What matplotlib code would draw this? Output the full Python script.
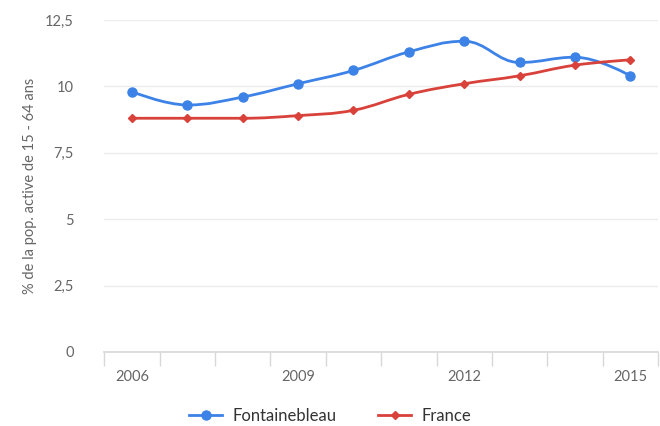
import matplotlib
matplotlib.use("Agg")
import matplotlib.pyplot as plt
from matplotlib.path import Path
from matplotlib.patches import PathPatch
from matplotlib.lines import Line2D
import numpy as np

plt.rcParams['font.family'] = ['Lato', 'DejaVu Sans']

years = [2006, 2007, 2008, 2009, 2010, 2011, 2012, 2013, 2014, 2015]
fontainebleau = [9.8, 9.3, 9.6, 10.1, 10.6, 11.3, 11.7, 10.9, 11.1, 10.4]
france = [8.8, 8.8, 8.8, 8.9, 9.1, 9.7, 10.1, 10.4, 10.8, 11.0]
yticks = [0, 2.5, 5, 7.5, 10, 12.5]
ytick_labels = ["0", "2,5", "5", "7,5", "10", "12,5"]
xtick_years = [2006, 2009, 2012, 2015]
ylabel = "% de la pop. active de 15 - 64 ans"

blue = "#3d82e6"
red = "#d8423b"
textc = "#666666"

def spline_path(xs, ys, smoothing=1.5):
    """Highcharts-like spline as cubic Bezier path through the points."""
    n = len(xs)
    verts = [(xs[0], ys[0])]
    codes = [Path.MOVETO]
    ctrl = []
    for i in range(n):
        if i == 0 or i == n - 1:
            ctrl.append(((xs[i], ys[i]), (xs[i], ys[i])))
            continue
        d = smoothing + 1
        lx = (smoothing * xs[i] + xs[i - 1]) / d
        ly = (smoothing * ys[i] + ys[i - 1]) / d
        rx = (smoothing * xs[i] + xs[i + 1]) / d
        ry = (smoothing * ys[i] + ys[i + 1]) / d
        if rx != lx:
            corr = ((ry - ly) * (rx - xs[i])) / (rx - lx) + ys[i] - ry
            ly += corr
            ry += corr
        lo, hi = min(ys[i - 1], ys[i]), max(ys[i - 1], ys[i])
        if ly > hi and ly > ys[i]:
            ly = max(ys[i - 1], ys[i]); ry = 2 * ys[i] - ly
        elif ly < lo and ly < ys[i]:
            ly = min(ys[i - 1], ys[i]); ry = 2 * ys[i] - ly
        lo2, hi2 = min(ys[i + 1], ys[i]), max(ys[i + 1], ys[i])
        if ry > hi2 and ry > ys[i]:
            ry = max(ys[i + 1], ys[i]); ly = 2 * ys[i] - ry
        elif ry < lo2 and ry < ys[i]:
            ry = min(ys[i + 1], ys[i]); ly = 2 * ys[i] - ry
        ctrl.append(((lx, ly), (rx, ry)))
    for i in range(1, n):
        verts += [ctrl[i - 1][1], ctrl[i][0], (xs[i], ys[i])]
        codes += [Path.CURVE4] * 3
    return Path(verts, codes)

fig = plt.figure(figsize=(6.6, 4.26), dpi=100)
ax = fig.add_axes([0.158, 0.174, 0.839, 0.779])

xs = list(range(len(years)))
for data, col, mk, ms in [(fontainebleau, blue, 'o', 6.5), (france, red, 'D', 4.5)]:
    p = spline_path(xs, data)
    ax.add_patch(PathPatch(p, facecolor='none', edgecolor=col, lw=2, zorder=3))
    ax.plot(xs, data, linestyle='none', marker=mk, color=col, markersize=ms, zorder=4)

ax.set_xlim(-0.5, len(years) - 0.5)
ax.set_ylim(0, 12.5)
ax.set_yticks(yticks)
ax.set_yticklabels(ytick_labels)
ax.set_xticks([years.index(y) for y in xtick_years])
ax.set_xticklabels([str(y) for y in xtick_years])
ax.set_xticks(np.arange(-0.5, len(years), 1.0), minor=True)

ax.grid(axis='y', color='#ececec', lw=1, zorder=0)
for s in ['top', 'right', 'left']:
    ax.spines[s].set_visible(False)
ax.spines['bottom'].set_color('#d8d8d8')
ax.spines['bottom'].set_linewidth(1.2)
ax.tick_params(axis='y', length=0, colors=textc, labelsize=10.5, pad=22)
ax.tick_params(axis='x', which='major', length=0, colors=textc, labelsize=10.5, pad=13)
ax.tick_params(axis='x', which='minor', length=10, color='#d8d8d8', width=1)
ax.set_ylabel(ylabel, color=textc, fontsize=10.5, labelpad=6)

handles = [Line2D([], [], color=blue, marker='o', lw=2, markersize=6.5),
           Line2D([], [], color=red, marker='D', lw=2, markersize=4.5)]
fig.legend(handles, ["Fontainebleau", "France"], loc='center', bbox_to_anchor=(0.5, 0.024),
           ncol=2, frameon=False, fontsize=12, labelcolor='#333333', handlelength=2,
           columnspacing=2.5, handletextpad=0.6)

fig.savefig("out.png", dpi=100)
